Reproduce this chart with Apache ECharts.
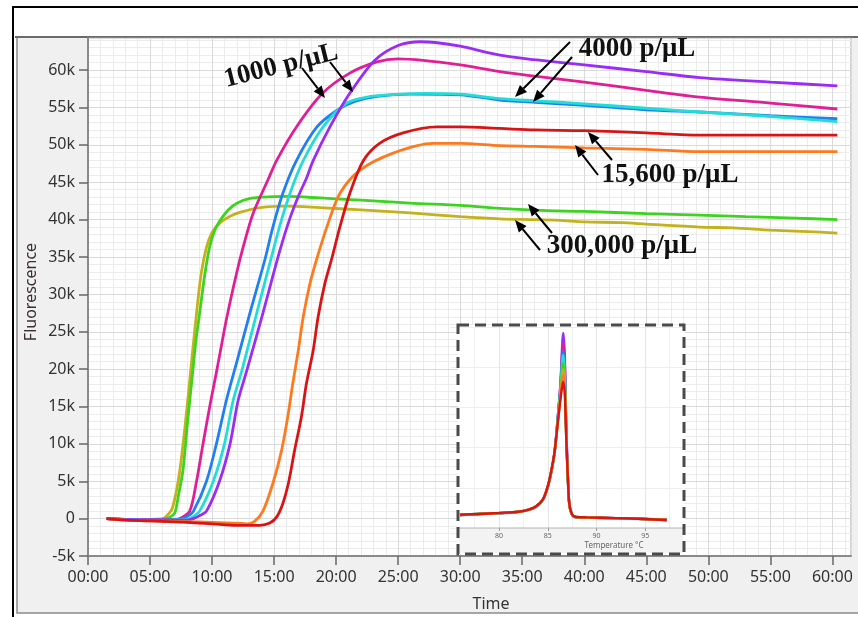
<!DOCTYPE html>
<html><head><meta charset="utf-8">
<script src="https://cdn.jsdelivr.net/npm/echarts@6/dist/echarts.min.js"></script>
<style>html,body{margin:0;padding:0;background:#fff}#c{width:858px;height:617px}</style>
</head><body><div id="c"></div>
<script>
// ---- Amplification curves: [time (min), fluorescence (k)] ----
const olive300k = [[1.5,0.0],[3,-0.1],[4.5,-0.1],[5.5,-0.2],[6.0,-0.1],[6.3,0.3],[6.75,1.2],[7.1,3.5],[7.4,6.4],[7.8,12.0],[8.2,18.5],[8.5,23.5],[8.75,27.5],[9.1,32.5],[9.55,36.3],[10.0,38.3],[10.65,39.6],[11.5,40.5],[12.3,41.0],[13.9,41.6],[16,41.8],[18.7,41.6],[22,41.3],[26,40.9],[30,40.4],[33.2,40.1],[36,40.0],[38,39.9],[40,39.7],[43,39.6],[45,39.4],[49.3,39.0],[52,38.9],[55,38.6],[58,38.4],[60.4,38.2]];
const green300k = [[1.5,0.0],[3,-0.1],[5,-0.1],[6.2,0.0],[6.6,0.2],[7.0,0.8],[7.3,3.2],[7.65,6.4],[8.0,12.5],[8.45,19.8],[8.7,23.8],[9.0,27.5],[9.4,32.5],[9.8,36.3],[10.2,38.5],[10.65,39.9],[11.3,41.3],[12.0,42.2],[13,42.8],[14.1,43.0],[16,43.1],[18.7,42.9],[22,42.6],[26,42.2],[30,41.9],[33.2,41.5],[37,41.2],[40,41.1],[45,40.8],[49.3,40.6],[53,40.4],[57,40.2],[60.4,40.0]];
const magenta1k = [[1.5,0.0],[3,-0.1],[5,-0.1],[7,-0.1],[7.5,0.1],[8.2,1.0],[8.75,5.0],[9.27,10.0],[9.87,15.5],[10.4,20.0],[11.2,27.0],[12.0,33.0],[12.5,36.3],[13.3,40.8],[14.5,45.3],[15.2,47.9],[16.8,52.4],[18.9,56.9],[21.1,59.6],[23.3,61.1],[25,61.5],[27,61.3],[30,60.7],[33.2,59.8],[36,59.2],[40,58.4],[45,57.3],[49.3,56.4],[55,55.6],[60.4,54.8]];
const blue4k = [[1.5,0.0],[3,-0.1],[5,-0.2],[7.4,-0.1],[8.0,0.3],[8.5,1.0],[9.55,5.0],[10.35,10.0],[11.15,15.8],[12.0,21.0],[13.05,27.5],[14.25,34.6],[14.9,39.0],[15.7,43.5],[16.8,47.9],[18.45,52.4],[20.05,54.6],[21.5,55.8],[23.3,56.5],[26,56.8],[30,56.7],[33.2,56.0],[36,55.7],[40,55.3],[45,54.7],[49.3,54.4],[55,53.9],[60.4,53.5]];
const cyan4k = [[1.5,0.0],[3,-0.1],[5,-0.2],[8.05,-0.1],[8.5,0.3],[9.0,1.0],[10.1,5.0],[11.0,10.0],[11.7,15.8],[12.4,19.8],[13.6,27.5],[14.85,35.4],[15.6,40.0],[16.45,44.3],[17.35,47.9],[18.95,52.4],[20.85,55.6],[22.5,56.4],[24.3,56.7],[27,56.9],[30,56.8],[33.2,56.2],[36,55.9],[40,55.5],[45,54.9],[49.3,54.4],[55,53.8],[60.4,53.1]];
const purple1k = [[1.5,0.0],[3,-0.1],[5,-0.2],[8,-0.2],[8.5,0.0],[9.0,0.4],[9.55,1.0],[10.6,5.0],[11.45,10.0],[12.1,15.8],[12.8,19.8],[14.1,27.5],[15.45,35.8],[16.3,40.3],[17.05,43.5],[17.6,45.5],[18.15,47.9],[19.5,52.4],[21.1,56.9],[23.1,61.3],[25,63.3],[26.8,63.8],[28,63.7],[30,63.2],[33.2,62.0],[36,61.4],[40,60.7],[45,59.8],[49.3,59.0],[55,58.4],[60.4,57.9]];
const orange15k = [[1.5,0.0],[3,-0.2],[5,-0.3],[8,-0.4],[10,-0.5],[12,-0.6],[12.8,-0.7],[13.4,-0.4],[14.1,1.0],[14.9,4.7],[15.6,9.1],[16.1,13.6],[16.5,18.0],[16.95,22.5],[17.35,27.0],[17.9,31.5],[18.45,34.8],[19.25,39.0],[20.3,43.5],[21.9,46.6],[24.6,48.9],[27.8,50.2],[30,50.2],[33.2,49.9],[36,49.8],[40,49.6],[45,49.4],[49.3,49.1],[55,49.1],[60.4,49.1]];
const red15k = [[1.5,0.0],[3,-0.2],[5,-0.3],[8,-0.5],[10,-0.7],[12,-0.9],[13.85,-0.9],[14.65,-0.6],[15.2,0.2],[15.7,2.0],[16.15,4.7],[16.65,9.1],[17.2,13.6],[17.6,18.0],[18.15,22.5],[18.55,27.0],[19.1,31.5],[19.65,34.8],[20.3,39.0],[21.1,43.5],[22.2,47.9],[23.5,50.2],[25.4,51.6],[28.1,52.4],[30,52.4],[33.2,52.2],[36,52.0],[40,51.9],[45,51.6],[49.3,51.3],[55,51.3],[60.4,51.3]];

// ---- Melt curve inset: temperature (°C) and relative signal ----
const meltTemps   = [76,78,80,82,83,83.8,84.5,85,85.4,85.7,86,86.3,86.5,86.6,86.75,86.9,87.05,87.2,87.45,87.8,89,92,95,97.2];
const meltPurple  = [6.5,7.0,7.4,8.0,9.0,10.6,14.0,20.5,29.0,38.0,54.0,72.0,93.0,97.0,85.0,50.0,28.0,12.4,7.0,5.5,5.2,4.9,4.5,4.0];
const meltMagenta = [6.4,7.0,7.3,8.1,9.0,10.5,14.1,20.3,28.6,37.5,53.5,71.0,89.0,92.0,81.0,48.0,27.0,12.0,7.0,5.4,5.2,4.8,4.4,4.0];
const meltBlue    = [6.6,7.1,7.4,8.0,9.1,10.7,14.0,20.6,29.0,37.8,53.0,70.0,86.0,88.0,78.0,47.0,27.0,12.3,7.1,5.5,5.3,4.9,4.5,4.1];
const meltCyan    = [6.5,7.0,7.3,8.0,9.0,10.6,14.0,20.4,28.8,37.6,52.5,69.0,84.0,86.0,76.0,46.0,26.5,12.2,7.0,5.5,5.2,4.8,4.5,4.0];
const meltGreen   = [6.5,7.1,7.4,8.1,9.1,10.6,14.2,20.5,29.0,37.5,52.0,67.0,80.0,82.0,73.0,45.0,26.0,12.0,7.0,5.4,5.2,4.9,4.4,4.0];
const meltOlive   = [6.6,7.0,7.5,8.0,9.0,10.7,14.1,20.7,29.2,37.8,51.5,66.0,77.0,79.0,71.0,44.5,26.0,12.3,7.1,5.5,5.2,4.8,4.5,4.0];
const meltOrange  = [6.5,7.1,7.4,8.1,9.1,10.8,14.3,20.8,29.3,38.0,51.0,65.0,74.5,76.0,69.0,44.0,26.0,12.4,7.2,5.6,5.3,4.9,4.5,4.1];
const meltRed     = [6.6,7.0,7.5,8.1,9.0,10.8,14.2,20.8,29.5,38.0,51.0,64.0,71.0,72.6,66.0,44.0,26.0,12.5,7.2,5.6,5.3,4.9,4.5,4.0];

const timeTickLabels = ['00:00','05:00','10:00','15:00','20:00','25:00','30:00','35:00','40:00','45:00','50:00','55:00','60:00'];
const fluorTickLabels = ['-5k','0','5k','10k','15k','20k','25k','30k','35k','40k','45k','50k','55k','60k'];
const meltTickLabels = ['80','85','90','95'];

const labelFont = '"Noto Sans", "DejaVu Sans", sans-serif';
const annFont = '"Liberation Serif", "DejaVu Serif", serif';

const chart = echarts.init(document.getElementById('c'), null, {renderer:'canvas'});

function amp(name, data, color){
  return {name, type:'line', data, xAxisIndex:1, yAxisIndex:1, showSymbol:false, smooth:0.3,
    lineStyle:{color, width:2.8}, itemStyle:{color}, z:3, animation:false};
}
function melt(name, vals, color){
  return {name, type:'line', data: meltTemps.map((t,i)=>[t, vals[i]]), xAxisIndex:2, yAxisIndex:2,
    showSymbol:false, smooth:0.3, lineStyle:{color, width:2.4}, itemStyle:{color}, z:12, animation:false};
}
function arrow(x1,y1,x2,y2){
  const a=Math.atan2(y2-y1,x2-x1), L=12, W=5;
  const bx=x2-L*Math.cos(a), by=y2-L*Math.sin(a);
  const px=-Math.sin(a)*W, py=Math.cos(a)*W;
  return [
    {type:'line', shape:{x1,y1,x2:bx,y2:by}, style:{stroke:'#000', lineWidth:2}, z:30},
    {type:'polygon', shape:{points:[[x2,y2],[bx+px,by+py],[bx-px,by-py]]}, style:{fill:'#000'}, z:30}
  ];
}
function annText(text, x, y, rot){
  return {type:'text', x, y, rotation:rot||0, z:30,
    style:{text, fontFamily:annFont, fontWeight:'bold', fontSize:27, fill:'#111',
      align:'center', verticalAlign:'middle', textAlign:'center', textVerticalAlign:'middle'}};
}

const graphics = [
  {type:'rect', shape:{x:13,y:7,width:900,height:700}, style:{fill:'#fff', stroke:'#000', lineWidth:2}, z:-20},
  {type:'rect', shape:{x:17,y:37,width:900,height:576}, style:{fill:'#f0f0f0', stroke:'#8a8a8a', lineWidth:1.5}, z:-10},
  {type:'line', shape:{x1:15,y1:37,x2:858,y2:37}, style:{stroke:'#6a6a6a', lineWidth:2}, z:-5},
  // inset box
  {type:'rect', shape:{x:458,y:325,width:226,height:229}, style:{fill:'#fff'}, z:8},
  {type:'rect', shape:{x:459,y:528,width:224,height:25}, style:{fill:'#f3f3f3'}, z:8},
  {type:'line', shape:{x1:459,y1:528,x2:683,y2:528}, style:{stroke:'#b5b5b5', lineWidth:1}, z:13},
  {type:'rect', shape:{x:458,y:325,width:226,height:229}, style:{fill:null, stroke:'#4a4a4a', lineWidth:3, lineDash:[11,6]}, z:20},
  {type:'text', x:614, y:546, z:20, style:{text:'Temperature °C', fontFamily:labelFont, fontSize:8, fill:'#666', align:'center', verticalAlign:'middle', textAlign:'center', textVerticalAlign:'middle'}},
  // axis names
  {type:'text', x:491, y:604, z:5, style:{text:'Time', fontFamily:labelFont, fontSize:16, fill:'#333', align:'center', verticalAlign:'middle', textAlign:'center', textVerticalAlign:'middle'}},
  {type:'text', x:31, y:292, rotation:Math.PI/2, z:5, style:{text:'Fluorescence', fontFamily:labelFont, fontSize:16, fill:'#3a3030', align:'center', verticalAlign:'middle', textAlign:'center', textVerticalAlign:'middle'}},
  // annotations
  annText('1000 p/μL', 281, 66, 0.245),
  annText('4000 p/μL', 637, 49),
  annText('15,600 p/μL', 670, 175),
  annText('300,000 p/μL', 622, 246),
  ...arrow(302,68,325,98), ...arrow(330,62,353,92),
  ...arrow(570,42,515,97), ...arrow(572,57,533,102),
  ...arrow(612,160,588,132), ...arrow(598,175,575,145),
  ...arrow(552,233,528,204), ...arrow(540,250,515,220)
];

const option = {
  backgroundColor:'#fff',
  animation:false,
  grid:[
    {left:88, top:38, width:763, height:518, show:true, backgroundColor:'#fff', borderColor:'#a0a0a0', borderWidth:1},
    {left:450.3, top:327, width:232, height:201, show:false}
  ],
  xAxis:[
    {type:'value', gridIndex:0, position:'bottom', min:0, max:61.5, interval:1, z:0,
      axisLine:{show:false}, axisTick:{show:false}, axisLabel:{show:false},
      splitLine:{show:true, lineStyle:{color:'#ececec', width:1}}},
    {type:'value', gridIndex:0, position:'bottom', min:0, max:61.5, interval:5, z:1,
      axisLine:{show:true, onZero:false, lineStyle:{color:'#8a8a8a', width:2}},
      axisTick:{show:true, length:9, lineStyle:{color:'#666', width:1.5}},
      axisLabel:{margin:13, fontFamily:labelFont, fontSize:16, color:'#333', showMaxLabel:false,
        formatter:(v)=> timeTickLabels[Math.round(v/5)] || ''},
      splitLine:{show:true, lineStyle:{color:'#dadada', width:1}}},
    {type:'value', gridIndex:1, position:'bottom', min:75, max:98.8, interval:5, z:10,
      axisLine:{show:false}, axisTick:{show:true, length:3, inside:false, lineStyle:{color:'#999'}},
      axisLabel:{margin:4, fontFamily:labelFont, fontSize:7, color:'#666', showMinLabel:false, showMaxLabel:false,
        formatter:(v)=> { const i=[80,85,90,95].indexOf(v); return i>=0 ? meltTickLabels[i] : ''; }},
      splitLine:{show:true, showMinLine:false, showMaxLine:false, lineStyle:{color:'#e6e6e6'}},
      minorTick:{show:false, splitNumber:2},
      minorSplitLine:{show:true, lineStyle:{color:'#f1f1f1'}}}
  ],
  yAxis:[
    {type:'value', gridIndex:0, position:'left', min:-5, max:64.3, interval:1, z:0,
      axisLine:{show:false}, axisTick:{show:false}, axisLabel:{show:false},
      splitLine:{show:true, lineStyle:{color:'#ececec', width:1}}},
    {type:'value', gridIndex:0, position:'left', min:-5, max:64.3, interval:5, z:1,
      axisLine:{show:true, onZero:false, lineStyle:{color:'#8a8a8a', width:2}},
      axisTick:{show:true, length:9, lineStyle:{color:'#666', width:1.5}},
      axisLabel:{margin:13, fontFamily:labelFont, fontSize:16, color:'#333', showMaxLabel:false,
        formatter:(v)=> fluorTickLabels[Math.round((v+5)/5)] || ''},
      splitLine:{show:true, lineStyle:{color:'#dadada', width:1}}},
    {type:'value', gridIndex:1, min:0, max:100, interval:20, z:10,
      axisLine:{show:false}, axisTick:{show:false}, axisLabel:{show:false},
      splitLine:{show:true, lineStyle:{color:'#eeeeee'}}}
  ],
  graphic:{elements:graphics},
  series:[
    amp('300,000 p/μL a', olive300k, '#c4b21c'),
    amp('300,000 p/μL b', green300k, '#3cd41e'),
    amp('1000 p/μL a', magenta1k, '#e01e96'),
    amp('4000 p/μL a', blue4k, '#2080f0'),
    amp('4000 p/μL b', cyan4k, '#22ddd6'),
    amp('1000 p/μL b', purple1k, '#9b2cf5'),
    amp('15,600 p/μL a', orange15k, '#ff7a1e'),
    amp('15,600 p/μL b', red15k, '#d91414'),
    melt('m1', meltPurple, '#9b2cf5'),
    melt('m2', meltMagenta, '#e01e96'),
    melt('m3', meltBlue, '#2080f0'),
    melt('m4', meltCyan, '#22ddd6'),
    melt('m5', meltGreen, '#3cd41e'),
    melt('m6', meltOlive, '#c4b21c'),
    melt('m7', meltOrange, '#ff7a1e'),
    melt('m8', meltRed, '#d91414')
  ]
};
chart.setOption(option);
</script>
</body></html>
